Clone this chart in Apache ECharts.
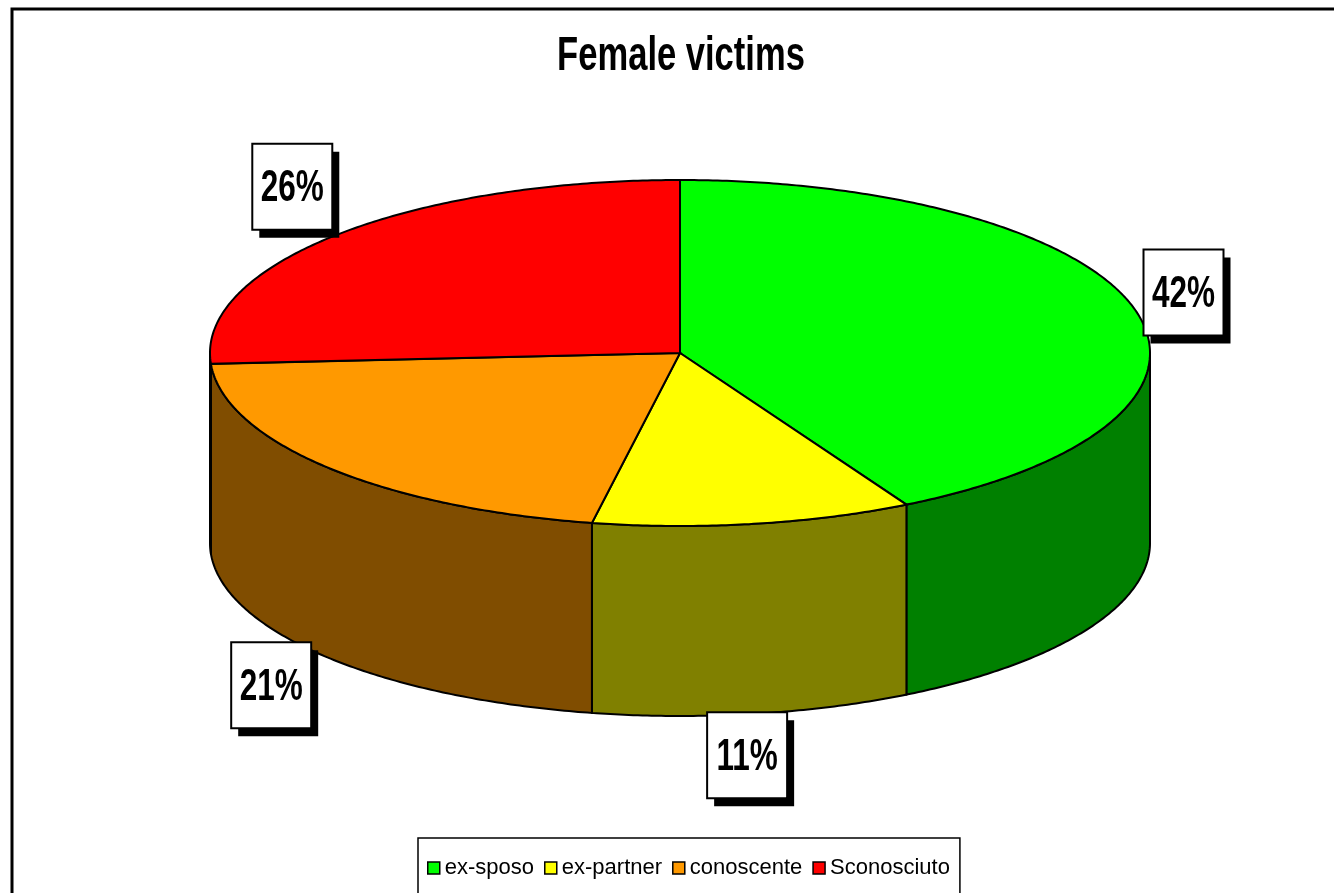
<!DOCTYPE html>
<html>
<head>
<meta charset="utf-8">
<title>Female victims</title>
<script src="https://cdn.jsdelivr.net/npm/echarts@6/dist/echarts.min.js"></script>
<style>
  html, body { margin: 0; padding: 0; background: #fff; }
  #chart { width: 1334px; height: 893px; }
</style>
</head>
<body>
<div id="chart"></div>
<script>
// dati
const categories = ['ex-sposo', 'ex-partner', 'conoscente', 'Sconosciuto'];
const shares = [42, 11, 21, 26];

// colori (faccia superiore / lato)
const topColors = ['#00ff00', '#ffff00', '#ff9900', '#ff0000'];
const sideColors = ['#008000', '#808000', '#804d00', '#800000'];

// geometria della torta "3D"
const CX = 680, CY = 353, RX = 470, RY = 173, DEPTH = 190;
const total = shares.reduce((a, b) => a + b, 0);

function angles(i) {
  let before = 0;
  for (let k = 0; k < i; k++) before += shares[k];
  return [before / total * Math.PI * 2, (before + shares[i]) / total * Math.PI * 2];
}

// punto sull'ellisse, angolo in senso orario dalle ore 12
function pt(t, dy) {
  return [CX + RX * Math.sin(t), CY - RY * Math.cos(t) + (dy || 0)];
}

function arc(t0, t1, dy) {
  let pts = [];
  let n = Math.max(2, Math.ceil((t1 - t0) / 0.01));
  for (let k = 0; k <= n; k++) pts.push(pt(t0 + (t1 - t0) * k / n, dy));
  return pts;
}

function sliceRenderer(i) {
  return function (params, api) {
    const [a0, a1] = angles(i);
    let children = [];
    // lato visibile (metà anteriore)
    const s0 = Math.max(a0, Math.PI / 2), s1 = Math.min(a1, Math.PI * 1.5);
    if (s1 > s0) {
      let pts = arc(s0, s1, 0).concat(arc(s0, s1, DEPTH).reverse());
      children.push({
        type: 'polygon',
        shape: { points: pts },
        style: { fill: sideColors[i], stroke: '#000', lineWidth: 2 }
      });
    }
    // faccia superiore
    children.push({
      type: 'polygon',
      shape: { points: [[CX, CY]].concat(arc(a0, a1, 0)) },
      style: { fill: topColors[i], stroke: '#000', lineWidth: 2 }
    });
    return { type: 'group', children: children };
  };
}

function labelRenderer(params, api) {
  const i = params.dataIndex;
  const [a0, a1] = angles(i);
  const mid = (a0 + a1) / 2;
  const c = Math.cos(mid);
  const lx = CX + (RX + 55) * Math.sin(mid) - 5 - (c < 0 ? 10 : 0);
  const ly = c > 0 ? CY - (RY + 70) * c : CY - (RY + 42) * c + DEPTH;
  const w = 80, h = 86;
  const txt = Math.round(api.value(0) / total * 100) + '%';
  return {
    type: 'group',
    children: [
      { type: 'rect', shape: { x: lx - w / 2 + 7, y: ly - h / 2 + 8, width: w, height: h },
        style: { fill: '#000' } },
      { type: 'rect', shape: { x: lx - w / 2, y: ly - h / 2, width: w, height: h },
        style: { fill: '#fff', stroke: '#000', lineWidth: 2 } },
      { type: 'text', x: lx, y: ly + 2, scaleX: 0.7,
        style: { text: txt, font: 'bold 45px "Liberation Sans", Arial, sans-serif', fill: '#000',
          align: 'center', verticalAlign: 'middle', textAlign: 'center', textVerticalAlign: 'middle' } }
    ]
  };
}

let series = categories.map((name, i) => ({
  name: name,
  type: 'custom',
  coordinateSystem: 'none',
  renderItem: sliceRenderer(i),
  itemStyle: { color: topColors[i] },
  data: [shares[i]],
  silent: true
}));
series.push({
  name: 'etichette',
  type: 'custom',
  coordinateSystem: 'none',
  renderItem: labelRenderer,
  data: shares,
  z: 5,
  silent: true
});

const myChart = echarts.init(document.getElementById('chart'));
const option = {
  animation: false,
  backgroundColor: '#fff',
  graphic: [
    { type: 'rect', x: 12, y: 9, shape: { x: 0, y: 0, width: 1400, height: 950 },
      style: { fill: 'none', stroke: '#000', lineWidth: 3 } },
    { type: 'text', x: 681, y: 57, scaleX: 0.72,
      style: { text: 'Female victims', font: 'bold 48px "Liberation Sans", Arial, sans-serif', fill: '#000',
        align: 'center', verticalAlign: 'middle', textAlign: 'center', textVerticalAlign: 'middle' } }
  ],
  legend: {
    data: categories,
    left: 418,
    top: 838,
    orient: 'horizontal',
    icon: 'rect',
    itemWidth: 12,
    itemHeight: 12,
    itemGap: 10,
    padding: [19, 10, 20, 9],
    borderColor: '#000',
    borderWidth: 1.5,
    backgroundColor: '#fff',
    itemStyle: { borderColor: '#000', borderWidth: 1.5 },
    textStyle: { fontSize: 22, color: '#000', fontFamily: '"Liberation Sans", Arial, sans-serif' }
  },
  series: series
};
myChart.setOption(option);
</script>
</body>
</html>
